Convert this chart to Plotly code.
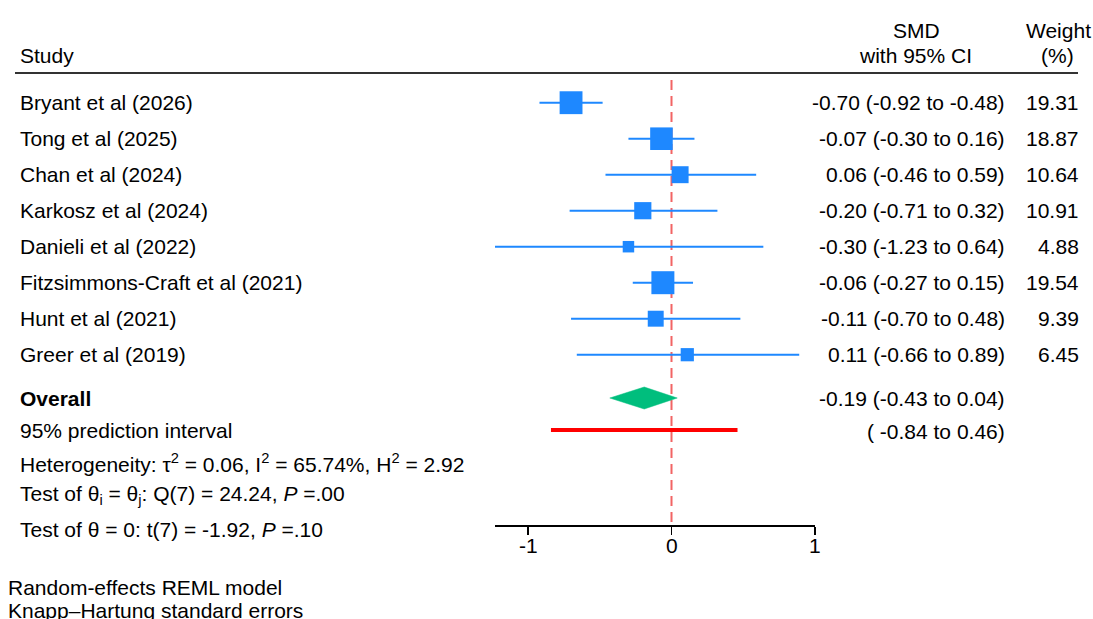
import plotly.graph_objects as go
import numpy as np

# ---------------- data ----------------
studies = ["Bryant et al (2026)", "Tong et al (2025)", "Chan et al (2024)",
           "Karkosz et al (2024)", "Danieli et al (2022)",
           "Fitzsimmons-Craft et al (2021)", "Hunt et al (2021)", "Greer et al (2019)"]
smd = [-0.70, -0.07, 0.06, -0.20, -0.30, -0.06, -0.11, 0.11]
ci_lo = [-0.92, -0.30, -0.46, -0.71, -1.23, -0.27, -0.70, -0.66]
ci_hi = [-0.48, 0.16, 0.59, 0.32, 0.64, 0.15, 0.48, 0.89]
weights = [19.31, 18.87, 10.64, 10.91, 4.88, 19.54, 9.39, 6.45]

overall_est = -0.19
overall_lo = -0.43
overall_hi = 0.04
pi_lo = -0.84
pi_hi = 0.46

tick_vals = [-1, 0, 1]
tick_text = ["-1", "0", "1"]

# ---------------- layout constants ----------------
W, H = 1093, 619
FONT = "Liberation Sans, Arial, sans-serif"
FS = 21
BLUE = "rgb(30,136,255)"
GREEN = "rgb(0,190,125)"
RED = "rgb(255,0,0)"
REFRED = "rgb(242,100,100)"

row0, row_step = 102.7, 36.0
row_y = [row0 + row_step * i for i in range(len(studies))]
y_overall = 398
y_pi = 430
y_het, y_t1, y_t2 = 463, 495, 529
y_axis_px = 525
y_ticklab = 545
diamond_half = 11
box_k = 5.2

x_left_px, x_right_px = 495, 815
x_range = [min(ci_lo), 1.0]

def px(x):
    return x / W

fig = go.Figure()

# CI lines
xs, ys = [], []
for lo, hi, y in zip(ci_lo, ci_hi, row_y):
    xs += [lo, hi, None]
    ys += [y, y, None]
fig.add_trace(go.Scatter(x=xs, y=ys, mode="lines",
                         line=dict(color=BLUE, width=2), hoverinfo="skip",
                         showlegend=False))

# boxes
fig.add_trace(go.Scatter(x=smd, y=row_y, mode="markers",
                         marker=dict(symbol="square", color=BLUE, opacity=1,
                                     size=[box_k * np.sqrt(w) for w in weights],
                                     line=dict(width=0)),
                         hoverinfo="skip", showlegend=False))

# prediction interval
fig.add_trace(go.Scatter(x=[pi_lo, pi_hi], y=[y_pi, y_pi], mode="lines",
                         line=dict(color=RED, width=4), hoverinfo="skip",
                         showlegend=False))

# overall diamond
fig.add_trace(go.Scatter(
    x=[overall_lo, overall_est, overall_hi, overall_est, overall_lo],
    y=[y_overall, y_overall - diamond_half, y_overall, y_overall + diamond_half, y_overall],
    mode="lines", fill="toself", fillcolor=GREEN,
    line=dict(color=GREEN, width=0.5), hoverinfo="skip", showlegend=False))

shapes = []
# reference line at 0
shapes.append(dict(type="line", xref="x", yref="y", x0=0, x1=0, y0=80, y1=y_axis_px,
                   line=dict(color=REFRED, width=2, dash="10px,6px"), layer="below"))
# header rule
shapes.append(dict(type="line", xref="paper", yref="y", x0=px(15), x1=px(1078),
                   y0=73, y1=73, line=dict(color="#333333", width=2)))

ann = []
def text(x, y, s, anchor="left", bold=False, xref="paper"):
    ann.append(dict(x=(px(x) if xref == "paper" else x), y=y, xref=xref, yref="y",
                    text=(f"<b>{s}</b>" if bold else s),
                    showarrow=False, xanchor=anchor, yanchor="middle",
                    font=dict(family=FONT, size=FS, color="black")))

# headers
text(18, 55, "Study")
text(916, 30, "SMD", "center")
text(915, 55, "with 95% CI", "center")
text(1058, 30, "Weight", "center")
text(1057, 55, "(%)", "center")

for name, e, lo, hi, w, y in zip(studies, smd, ci_lo, ci_hi, weights, row_y):
    text(18, y, name)
    text(1007, y, f"{e:.2f} ({lo:.2f} to {hi:.2f})", "right")
    text(1081, y, f"{w:.2f}", "right")

text(18, y_overall, "Overall", bold=True)
text(1007, y_overall, f"{overall_est:.2f} ({overall_lo:.2f} to {overall_hi:.2f})", "right")
text(18, y_pi, "95% prediction interval")
text(1007, y_pi + 1, f"( {pi_lo:.2f} to {pi_hi:.2f})", "right")
text(18, y_het, "Heterogeneity: τ<sup>2</sup> = 0.06, I<sup>2</sup> = 65.74%, H<sup>2</sup> = 2.92")
text(18, y_t1, "Test of θ<sub>i</sub> = θ<sub>j</sub>: Q(7) = 24.24, <i>P</i> =.00")
text(18, y_t2, "Test of θ = 0: t(7) = -1.92, <i>P</i> =.10")
text(6, 587, "Random-effects REML model")
text(6, 610, "Knapp–Hartung standard errors")

# tick labels placed at the axis tick values
for v, t in zip(tick_vals, tick_text):
    text(v, y_ticklab, t, "center", xref="x")

fig.update_layout(
    width=W, height=H, autosize=False,
    margin=dict(l=0, r=0, t=0, b=0, pad=0, autoexpand=False),
    paper_bgcolor="white", plot_bgcolor="white",
    showlegend=False,
    shapes=shapes, annotations=ann,
    xaxis=dict(domain=[px(x_left_px), px(x_right_px)], range=x_range,
               anchor="free", position=(H - y_axis_px) / H,
               showline=True, linecolor="black", linewidth=1.5,
               ticks="outside", ticklen=8, tickwidth=1.5, tickcolor="black",
               tickvals=tick_vals, showticklabels=False, automargin=False,
               showgrid=False, zeroline=False, fixedrange=True),
    yaxis=dict(domain=[0, 1], range=[H, 0], visible=False, showgrid=False,
               zeroline=False, fixedrange=True, automargin=False),
)

fig.write_html("out.html",
               config={"responsive": False, "displayModeBar": False, "staticPlot": True},
               post_script="document.body.style.margin='0';document.body.style.overflow='hidden';")
